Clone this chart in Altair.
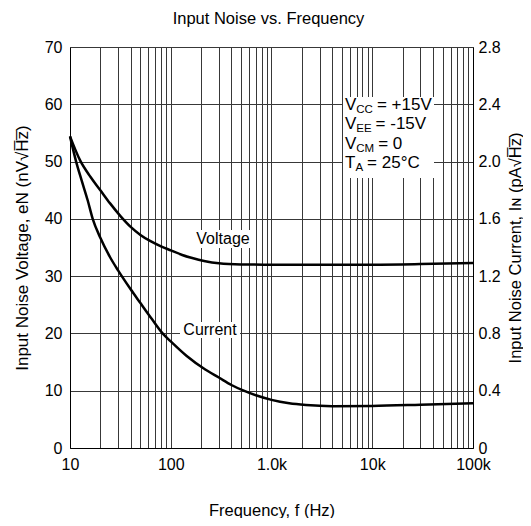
import altair as alt
import pandas as pd

# ---------------- data ----------------
chart_title = "Input Noise vs. Frequency"

volt_freq = [10, 12.6, 16, 20, 25, 32, 40, 50, 63, 80, 100, 130, 160, 220, 300, 500,
             1000, 3000, 10000, 30000, 100000]
volt_nv = [54.4, 50.2, 47.3, 45.0, 42.7, 40.4, 38.6, 37.2, 36.1, 35.2, 34.5, 33.7, 33.2,
           32.6, 32.25, 32.05, 32.0, 32.0, 32.0, 32.1, 32.3]

curr_freq = [10, 11.5, 13, 15, 16.8, 20, 25, 30, 40, 50, 65, 83, 100, 143, 220, 300, 400,
             530, 700, 1000, 1500, 2200, 4000, 10000, 30000, 100000]
curr_pa = [2.176, 2.0, 1.872, 1.728, 1.6, 1.468, 1.332, 1.24, 1.108, 1.012, 0.9, 0.8,
           0.744, 0.644, 0.548, 0.492, 0.44, 0.4, 0.368, 0.336, 0.312, 0.3, 0.292, 0.294,
           0.302, 0.312]

x_grid = [m * 10 ** d for d in range(1, 5) for m in range(1, 10)] + [100000]
x_labels = {10: "10", 100: "100", 1000: "1.0k", 10000: "10k", 100000: "100k"}
left_ticks = [0, 10, 20, 30, 40, 50, 60, 70]
right_ticks = [0, 0.4, 0.8, 1.2, 1.6, 2.0, 2.4, 2.8]

ann_main = ["V", "V", "V", "T"]
ann_sub = ["CC", "EE", "CM", "A"]
ann_rest = ["= +15V", "= -15V", "= 0", "= 25°C"]

curve_labels = ["Voltage", "Current"]

# ---------------- layout ----------------
W, H = 403, 401
FONT = "Liberation Sans"
GRID = "#383838"

label_expr = " : ".join(
    [f"datum.value == {k} ? '{v}'" for k, v in x_labels.items()]) + " : ''"

x_enc = alt.X(
    "f:Q",
    scale=alt.Scale(type="log", domain=[10, 100000], nice=False),
    axis=alt.Axis(values=x_grid, labelExpr=label_expr, grid=True, ticks=False,
                  domain=True, domainColor="black", labelPadding=8, labelFontSize=16,
                  labelFont=FONT, labelColor="black", labelFlush=False,
                  title="Frequency, f (Hz)", titleFontSize=16.5, titleFont=FONT,
                  titleFontWeight="normal", titleColor="black",
                  titleX=W / 2, titleY=62, titleBaseline="middle",
                  gridColor=GRID, gridWidth=1, gridOpacity=1),
)

vdf = pd.DataFrame({"f": volt_freq, "v": volt_nv})
cdf = pd.DataFrame({"f": curr_freq, "c": curr_pa})

voltage = alt.Chart(vdf).mark_line(color="black", strokeWidth=2.5,
                                   interpolate="monotone").encode(
    x=x_enc,
    y=alt.Y("v:Q", scale=alt.Scale(domain=[0, 70], nice=False),
            axis=alt.Axis(values=left_ticks, grid=True, ticks=False, domainColor="black",
                          labelPadding=8, labelFontSize=16, labelFont=FONT,
                          labelColor="black",
                          title="Input Noise Voltage, eN (nV\u221aH\u0305z\u0305)",
                          titleFontSize=17, titleFont=FONT, titleFontWeight="normal",
                          titleColor="black", titleAngle=270, titleX=-48,
                          titleY=H / 2, titleBaseline="middle", titleAlign="center",
                          gridColor=GRID, gridWidth=1, gridOpacity=1)),
)

current = alt.Chart(cdf).mark_line(color="black", strokeWidth=2.5,
                                   interpolate="monotone").encode(
    x=x_enc,
    y=alt.Y("c:Q", scale=alt.Scale(domain=[0, 2.8], nice=False),
            axis=alt.Axis(orient="right", values=right_ticks, grid=False, ticks=False,
                          domainColor="black", labelPadding=5, labelFontSize=16,
                          labelFont=FONT, labelColor="black",
                          labelExpr="datum.value == 0 ? '0' : format(datum.value, '.1f')",
                          title="Input Noise Current, I\u0274 (pA\u221aH\u0305z\u0305)",
                          titleFontSize=16.5, titleFont=FONT, titleFontWeight="normal",
                          titleColor="black", titleAngle=270, titleX=42,
                          titleY=H / 2, titleBaseline="middle", titleAlign="center")),
)

one = pd.DataFrame({"k": [0]})


def box(x1, x2, y1, y2):
    return alt.Chart(one).mark_rect(color="white").encode(
        x=alt.value(x1), x2=alt.value(x2), y=alt.value(y1), y2=alt.value(y2))


def txt(s, x, y, size, baseline="alphabetic", align="left"):
    return alt.Chart(one).mark_text(text=s, font=FONT, fontSize=size, color="black",
                                    align=align, baseline=baseline).encode(
        x=alt.value(x), y=alt.value(y))


layers = [box(273, 364, 50, 131), box(123, 183, 183, 201), box(110, 170, 275, 291)]
layers.append(txt(curve_labels[0], 153, 192, 16, baseline="middle", align="center"))
layers.append(txt(curve_labels[1], 140, 283, 16, baseline="middle", align="center"))
layers.append(txt(chart_title, W / 2 - 3, -28, 16.5, baseline="middle", align="center"))

main_w = {"V": 11.3, "T": 10.4}
sub_w = {"CC": 16.6, "EE": 15.3, "CM": 17.9, "A": 7.7}
for i in range(4):
    base = 62.5 + i * 19.6
    x0 = 275
    x1 = x0 + main_w[ann_main[i]]
    x2 = x1 + sub_w[ann_sub[i]] + 4
    layers.append(txt(ann_main[i], x0, base, 17))
    layers.append(txt(ann_sub[i], x1, base + 3, 11.5))
    layers.append(txt(ann_rest[i], x2, base, 17))

left_layer = alt.layer(voltage, *layers)

chart = alt.layer(left_layer, current).resolve_scale(y="independent").properties(
    width=W, height=H,
    autosize=alt.AutoSizeParams(type="none"),
    padding={"left": 62, "top": 39, "right": 50, "bottom": 70},
).configure_view(stroke="black", strokeWidth=1).configure(background="white")

chart.save("out.html", embed_options={"renderer": "svg", "actions": False})
